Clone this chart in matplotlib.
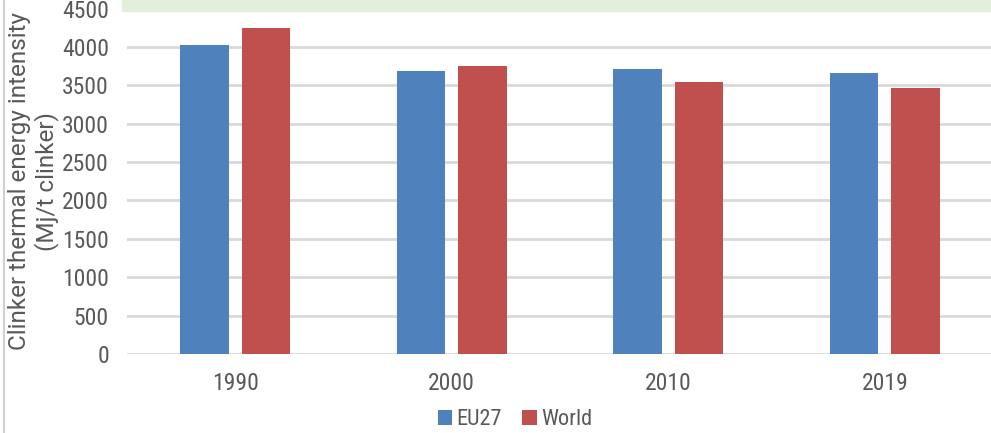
import numpy as np
import matplotlib.pyplot as plt
from matplotlib.patches import Rectangle
from matplotlib.lines import Line2D

# clinker thermal energy intensity, Mj/t clinker
years = ['1990', '2000', '2010', '2019']
eu27 = [4030, 3686, 3712, 3660]
world = [4248, 3748, 3546, 3460]
series_names = ['EU27', 'World']

blue = '#4f81bd'
red = '#c0504d'
txt = '#595959'

plt.rcParams['font.family'] = ['Roboto Condensed', 'DejaVu Sans']

fig = plt.figure(figsize=(9.91, 4.33), dpi=100)
ax = fig.add_axes([127/991, 79/433, 866/991, 345.5/433])

x = np.arange(len(years))
w = 0.222
off = 0.142
ax.bar(x - off, eu27, w, color=blue, label=series_names[0], zorder=3)
ax.bar(x + off, world, w, color=red, label=series_names[1], zorder=3)

ax.set_xlim(-0.5, 3.5)
ax.set_ylim(0, 4500)
ax.set_yticks(np.arange(0, 4501, 500))
ax.set_xticks(x)
ax.set_xticklabels(years)
ax.grid(axis='y', color='#d9d9d9', linewidth=2, zorder=0)
for s in ax.spines.values():
    s.set_visible(False)
ax.tick_params(axis='both', length=0, labelsize=17, labelcolor=txt)
ax.tick_params(axis='y', pad=13)
ax.tick_params(axis='x', pad=13)

ax.set_ylabel('Clinker thermal energy intensity\n(Mj/t clinker)', fontsize=17.5,
              color=txt, linespacing=1.15, family=['Roboto', 'DejaVu Sans'])
ax.yaxis.set_label_coords(-0.079, 0.5)

leg = ax.legend(loc='center', bbox_to_anchor=(0.448, -0.19), ncol=2, frameon=False,
                fontsize=16, handlelength=0.65, handleheight=0.65, handletextpad=0.2,
                columnspacing=0.9, labelcolor=txt)

# green header strip above the plot, left border line
fig.patches.append(Rectangle((122/991, 1 - 10.7/433), 1, 10.7/433,
                             transform=fig.transFigure, color='#e2efda', zorder=0))
fig.lines.append(Line2D([4/991, 4/991], [0, 1], transform=fig.transFigure,
                        color='#d0d0d0', linewidth=1.5))

fig.savefig('out.png', dpi=100)
